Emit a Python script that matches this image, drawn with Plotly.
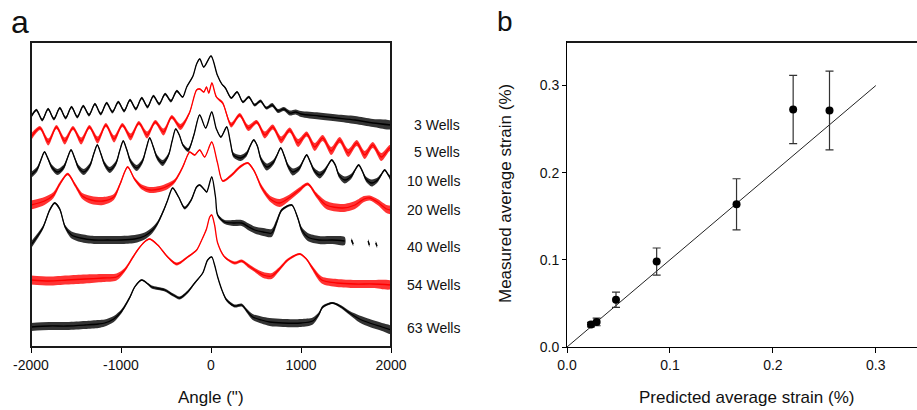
import plotly.graph_objects as go

# ---------------- Panel a: XRD rocking curves (offset, arbitrary units) ----------------
x3 = [-2000, -1940, -1875, -1810, -1745, -1680, -1615, -1550, -1485, -1420, -1355, -1290, -1225,
      -1160, -1095, -1030, -965, -900, -835, -770, -705, -640, -575, -510, -445, -380,
      -315, -270, -200, -160, -125, -80, 0, 70, 120,
      160, 225, 290, 355, 420, 485, 550, 615, 680, 745, 810, 875, 940,
      1000, 1200, 1400, 1600, 1800, 2000]
y3 = [230, 237, 227, 238, 228, 239, 229, 240, 230, 241, 232, 243, 233, 244, 235, 245, 236, 247, 238,
      249, 240, 251, 243, 253, 246, 256,
      250, 260, 271, 283, 288, 280, 291, 272, 263,
      259, 249, 255, 245, 250, 242, 246, 239, 242, 236, 238, 234, 235,
      233, 231, 229, 227, 224, 222]
n3 = [1.5, 1.2, 1.5, 1.2, 1.5, 1.2, 1.5, 1.2, 1.5, 1.2, 1.5, 1.2, 1.5, 1.2, 1.5, 1.2, 1.5, 1.2,
      1.5, 1.2, 1.5, 1.2, 1.5, 1.2, 1.5, 1.2,
      0.8, 0.8, 0.8, 0.8, 0.8, 0.8, 0.8, 0.8, 0.8,
      1, 1, 1, 1.2, 1.2, 1.5, 1.5, 1.5, 2, 2, 2, 2.5, 2.5,
      3, 3.5, 3.5, 4, 4, 4]

x5 = [-2000, -1900, -1808, -1717, -1625, -1534, -1442, -1351, -1259, -1168, -1076, -985, -893, -802,
      -710, -619, -527, -436,
      -340, -240, -160, -125, -80, -50, -25, 10, 60,
      130, 225, 319, 414, 508, 597, 686, 780, 874, 968, 1063, 1152, 1241, 1336, 1430, 1525, 1619,
      1708, 1797, 1892, 1986, 2000]
y5 = [210, 219, 205, 220, 206, 219, 206, 220, 207, 222, 208, 222, 210, 224, 212, 225, 215, 230,
      220, 234, 257, 258, 255, 260, 254, 264, 250,
      244, 222, 232, 219, 225, 212, 220, 207, 217, 204, 213, 200, 209, 196, 207, 194, 204, 192,
      202, 190, 199, 198]
n5 = [3.5, 2, 3.5, 2, 3.5, 2, 3.5, 2, 3.5, 2, 3.5, 2, 3.5, 2, 3.5, 2, 3.5, 2,
      3, 1.5, 0.8, 0.8, 0.8, 0.8, 0.8, 0.8, 1,
      1.5, 2.5, 2, 3, 2, 3.5, 2.5, 3.5, 2.5, 4, 2.5, 4, 3, 4, 3, 4, 3, 4, 3, 4, 3, 3]

x10 = [-2000,
       -1930, -1890, -1850, -1810, -1770, -1705,
       -1635, -1595, -1555, -1515, -1475, -1414,
       -1343, -1303, -1263, -1223, -1183, -1125,
       -1055, -1015, -975, -935, -895, -826,
       -761, -721, -681, -641, -601, -537,
       -472, -432, -392, -352, -312, -253,
       -190, -126, -59, 8, 60, 110, 175, 215, 250, 330,
       395, 435, 475, 515, 555, 620,
       695, 735, 775, 815, 855, 909,
       983, 1023, 1063, 1103, 1143, 1208,
       1261, 1301, 1341, 1381, 1421, 1486,
       1561, 1601, 1641, 1681, 1721, 1786,
       1850, 1890, 1930, 1970, 2000]
y10 = [172,
       178, 187, 195, 188, 180, 175,
       180, 189, 197, 189, 180, 175,
       182, 193, 202, 193, 183, 177,
       184, 196, 206, 197, 186, 179,
       186, 198, 209, 200, 190, 184,
       192, 206, 218, 212, 202, 197,
       212, 232, 219, 235, 218, 210, 220, 205, 192, 189,
       193, 201, 207, 201, 188, 180,
       185, 192, 199, 191, 181, 175,
       179, 186, 192, 185, 177, 172,
       176, 182, 187, 182, 172, 167,
       171, 177, 182, 176, 168, 164,
       167, 172, 177, 172, 168]
n10 = [3,
       2.5, 1.5, 1, 1.5, 2.5, 3,
       2.5, 1.5, 1, 1.5, 2.5, 3,
       2.5, 1.5, 1, 1.5, 2.5, 3,
       2.5, 1.5, 1, 1.5, 2.5, 3,
       2.5, 1.5, 1, 1.5, 2.5, 3,
       2, 1.2, 0.8, 1, 1.5, 2,
       1.5, 0.8, 0.8, 0.8, 0.8, 1, 1, 1.5, 2.5, 3,
       2.5, 1.5, 1, 1.5, 2.5, 3.5,
       2.5, 1.5, 1, 1.5, 2.5, 3.5,
       2.5, 1.5, 1, 1.5, 2.5, 3.5,
       2.5, 1.5, 1, 1.5, 2.5, 3.5,
       2.5, 1.5, 1, 1.5, 2.5, 3.5,
       2.5, 1.5, 1, 1.5, 2.5]

x20 = [-2000, -1850, -1750, -1680, -1592, -1510, -1430, -1330, -1200, -1080, -1010, -926, -850,
       -770, -680, -570, -480, -403, -314, -259, -237, -181, -126, -70, 8,
       70, 130, 230, 320, 408, 480, 560, 660, 763, 880, 980, 1075, 1170, 1280, 1463,
       1600, 1700, 1763, 1850, 1950, 2000]
y20 = [142, 146, 152, 163, 173, 162, 151, 147, 146, 150, 163, 180, 168,
       160, 157, 158, 161, 166, 180, 192, 195, 192, 197, 190, 205,
       185, 166, 172, 180, 184, 176, 160, 148, 144, 150, 157, 163, 152, 142, 139,
       142, 148, 149, 145, 138, 137]
n20 = [4.5, 4, 3, 2, 1.2, 2, 3, 4, 4, 3, 1.8, 1, 1.5,
       2.5, 3, 3, 3, 2, 1.5, 1, 0.8, 0.8, 0.8, 0.8, 0.8,
       0.8, 1, 1.5, 1.5, 1, 1.5, 2.5, 3, 4, 3, 2.5, 1.5, 2.5, 4, 4,
       4, 3, 2.5, 3, 4, 4]

x40 = [-2000, -1870, -1792, -1737, -1681, -1620, -1550, -1450, -1300, -1150, -1000, -848, -737,
       -650, -592, -520, -481, -426, -360, -292, -220, -160, -126, -70, -48,
       8, 50, 74, 152, 250, 341, 420, 486, 580, 674, 730, 786, 897, 960, 1008,
       1075, 1200, 1350, 1486, 1520, 1560, 1580, 1650, 1745, 1760, 1800, 1830, 1845, 1900]
y40 = [102, 119, 137, 144, 138, 120, 112, 109, 107, 107, 107, 108, 111,
       117, 124, 138, 147, 159, 150, 139, 147, 160, 162, 157, 155,
       170, 150, 132, 125, 124, 124, 120, 117, 115, 114, 125, 137, 142, 130, 117,
       110, 107, 107, 106, None, 107, 103, None, 106, 102, None, 104, 101, None]
n40 = [3.5, 2, 1.5, 1, 1.5, 2, 3.5, 4, 4, 4, 4, 4, 3.5,
       3, 2, 1.5, 1, 0.8, 1, 1.5, 1.5, 1, 0.8, 0.8, 0.8,
       0.8, 0.8, 1.5, 2, 3, 3, 3.5, 3.5, 4, 4, 3, 1.5, 1, 1.5, 3,
       4, 4, 4, 4, 0, 2, 2, 0, 2, 2, 0, 2, 2, 0]

x54 = [-2000, -1800, -1600, -1400, -1200, -1050, -959, -880, -815, -740, -681, -592, -481, -381,
       -259, -159, -103, -50, -14, 8, 40, 74, 152, 263, 341, 420, 486, 580, 674, 760,
       852, 986, 1060, 1119, 1230, 1400, 1600, 1800, 2000]
y54 = [67, 66, 67, 68, 69, 70, 77, 88, 97, 105, 108, 102, 90, 83,
       90, 97, 107, 118, 130, 132, 122, 104, 90, 84, 86, 81, 77, 72, 71, 78,
       87, 93, 88, 80, 67, 64, 63, 63, 62]
n54 = [4.5, 4.5, 4.5, 4.5, 4, 3.5, 2, 1.5, 1, 0.8, 0.8, 0.8, 1, 1.5,
       1, 0.8, 0.8, 0.8, 0.8, 0.8, 0.8, 0.8, 1, 1.5, 1.5, 2, 2, 3, 3, 2,
       1.5, 1, 1, 2, 3.5, 4, 4, 4, 4]

x63 = [-2000, -1800, -1600, -1400, -1250, -1181, -1080, -992, -900, -848, -770, -700, -659, -514,
       -420, -348, -260, -181, -92, -37, 8, 40, 74, 130, 174, 263, 341, 400, 463, 560,
       652, 800, 1000, 1131, 1200, 1241, 1352, 1450, 1541, 1650, 1763, 1900, 2000]
y63 = [20, 21, 21, 22, 23, 24, 28, 36, 50, 60, 67, 63, 60, 57,
       52, 49, 55, 64, 74, 87, 90, 82, 70, 55, 47, 41, 42, 36, 30, 27,
       25, 24, 24, 26, 33, 40, 44, 40, 34, 28, 24, 20, 17]
n63 = [4, 4, 4, 4, 4, 3.5, 3, 2, 1.5, 1, 0.8, 1, 1.5, 1.5,
       1.5, 1.5, 1.5, 1, 0.8, 0.8, 0.8, 0.8, 0.8, 1, 1.5, 1.5, 1.5, 2, 3, 3.5,
       4, 4, 4, 3.5, 2, 1.5, 1, 1.5, 2, 3.5, 4, 4, 4]

well_labels = ["3 Wells", "5 Wells", "10 Wells", "20 Wells", "40 Wells", "54 Wells", "63 Wells"]
angle_ticks = [-2000, -1000, 0, 1000, 2000]
angle_ticktext = ["-2000", "-1000", "0", "1000", "2000"]

# ---------------- Panel b: measured vs predicted strain ----------------
predicted = [0.0233, 0.0288, 0.0476, 0.0871, 0.1647, 0.2197, 0.2550]
measured = [0.0257, 0.0288, 0.0542, 0.0980, 0.1638, 0.2725, 0.2714]
meas_err = [0.0025, 0.0044, 0.0087, 0.0156, 0.0293, 0.0392, 0.0452]
fit_x = [0.0, 0.3]
fit_y = [0.0, 0.3]
strain_ticks = [0.0, 0.1, 0.2, 0.3]
strain_ticktext = ["0.0", "0.1", "0.2", "0.3"]

# ---------------- Figure ----------------
BLACK = "#000000"
RED = "#ff0000"
FRAME = "#1a1a1a"
FONT = "Arial, Liberation Sans, sans-serif"
TXT = "#111111"

curves = [(x3, y3, n3, BLACK), (x5, y5, n5, RED), (x10, y10, n10, BLACK), (x20, y20, n20, RED),
          (x40, y40, n40, BLACK), (x54, y54, n54, RED), (x63, y63, n63, BLACK)]

fig = go.Figure()


def segments(xs, ys, ns):
    segs, cur = [], []
    for x, y, n in zip(xs, ys, ns):
        if y is None:
            if cur:
                segs.append(cur)
            cur = []
        else:
            cur.append((x, y, n))
    if cur:
        segs.append(cur)
    return segs


for xs, ys, ns, col in curves:
    for seg in segments(xs, ys, ns):
        if len(seg) < 2:
            continue
        bx = [p[0] for p in seg] + [p[0] for p in reversed(seg)]
        by = [p[1] + p[2] for p in seg] + [p[1] - p[2] for p in reversed(seg)]
        fig.add_trace(go.Scatter(x=bx, y=by, mode="lines", fill="toself", fillcolor=col,
                                 line=dict(width=0, color=col, shape="spline", smoothing=0.8),
                                 opacity=0.8, hoverinfo="skip", xaxis="x", yaxis="y"))
    fig.add_trace(go.Scatter(x=xs, y=ys, mode="lines",
                             line=dict(color=col, width=1.3, shape="spline", smoothing=0.8),
                             connectgaps=False, xaxis="x", yaxis="y"))

fig.add_trace(go.Scatter(x=fit_x, y=fit_y, mode="lines", line=dict(color="#222222", width=1),
                         xaxis="x2", yaxis="y2"))
fig.add_trace(go.Scatter(x=predicted, y=measured, mode="markers",
                         marker=dict(color=BLACK, size=8),
                         error_y=dict(type="data", array=meas_err, color="#333333",
                                      thickness=1.2, width=4),
                         xaxis="x2", yaxis="y2"))

W, H = 917, 410
T, B = 42, 63
plot_h = H - T - B
A_LEFT, A_RIGHT = 31, 391
B_LEFT = 567


def px(xp):
    return xp / W


def py(yp):
    return (H - B - yp) / plot_h


annotations = []
label_py = [125, 152, 181, 210, 247, 285, 328]
for lab, yp in zip(well_labels, label_py):
    annotations.append(dict(text=lab, xref="paper", yref="paper", x=px(462), y=py(yp),
                            xanchor="right", yanchor="middle", showarrow=False,
                            font=dict(size=14, color=TXT, family=FONT)))
annotations += [
    dict(text="a", xref="paper", yref="paper", x=px(19.5), y=py(22), xanchor="center",
         yanchor="middle", showarrow=False, font=dict(size=32, color=TXT, family=FONT)),
    dict(text="b", xref="paper", yref="paper", x=px(504.5), y=py(22), xanchor="center",
         yanchor="middle", showarrow=False, font=dict(size=28, color=TXT, family=FONT)),
    dict(text="Angle (\")", xref="paper", yref="paper", x=px(211), y=py(397), xanchor="center",
         yanchor="middle", showarrow=False, font=dict(size=17, color=TXT, family=FONT)),
    dict(text="Predicted average strain (%)", xref="paper", yref="paper", x=px(746.5), y=py(397),
         xanchor="center", yanchor="middle", showarrow=False,
         font=dict(size=17, color=TXT, family=FONT)),
    dict(text="Measured average strain (%)", xref="paper", yref="paper", x=px(505), y=py(194),
         xanchor="center", yanchor="middle", showarrow=False, textangle=-90,
         font=dict(size=17, color=TXT, family=FONT)),
]

# box frame of panel a and top border of panel b, drawn on paper (not clipped)
frame = [
    dict(type="rect", xref="paper", yref="paper", x0=px(A_LEFT), x1=px(A_RIGHT), y0=0, y1=1,
         line=dict(color=FRAME, width=2), fillcolor="rgba(0,0,0,0)", layer="above"),
    dict(type="line", xref="paper", yref="paper", x0=px(B_LEFT), x1=1, y0=1, y1=1,
         line=dict(color=FRAME, width=2), layer="above"),
]

fig.update_layout(
    width=W, height=H, margin=dict(l=0, r=0, t=T, b=B, autoexpand=False),
    paper_bgcolor="white", plot_bgcolor="white", showlegend=False,
    font=dict(family=FONT, color=TXT, size=14),
    xaxis=dict(domain=[A_LEFT / W, A_RIGHT / W], range=[-2000, 2000], tickvals=angle_ticks,
               ticktext=angle_ticktext, ticks="outside", ticklen=5, tickwidth=1, tickcolor=BLACK,
               showline=True, linecolor=BLACK, linewidth=1, mirror=True, showgrid=False,
               zeroline=False, tickfont=dict(size=14, color=TXT, family=FONT)),
    yaxis=dict(domain=[0, 1], range=[0, 305], showticklabels=False, ticks="", showline=True,
               linecolor=BLACK, linewidth=1, mirror=True, showgrid=False, zeroline=False),
    xaxis2=dict(domain=[B_LEFT / W, 1.0], range=[0, 0.34], anchor="y2", tickvals=strain_ticks,
                ticktext=strain_ticktext, ticks="outside", ticklen=5, tickwidth=1, tickcolor=BLACK,
                showline=True, linecolor=BLACK, linewidth=1, mirror=True, showgrid=False,
                zeroline=False, tickfont=dict(size=14, color=TXT, family=FONT)),
    yaxis2=dict(domain=[0, 1], range=[0, 0.35], anchor="x2", tickvals=strain_ticks,
                ticktext=strain_ticktext, ticks="outside", ticklen=4, tickwidth=1, tickcolor=BLACK,
                showline=True, linecolor=BLACK, linewidth=1, mirror=False, showgrid=False,
                zeroline=False, tickfont=dict(size=14, color=TXT, family=FONT)),
    annotations=annotations,
    shapes=frame,
)

fig.write_html("out.html", config={"displayModeBar": False},
               post_script="document.body.style.margin='0px';document.body.style.overflow='hidden';")
